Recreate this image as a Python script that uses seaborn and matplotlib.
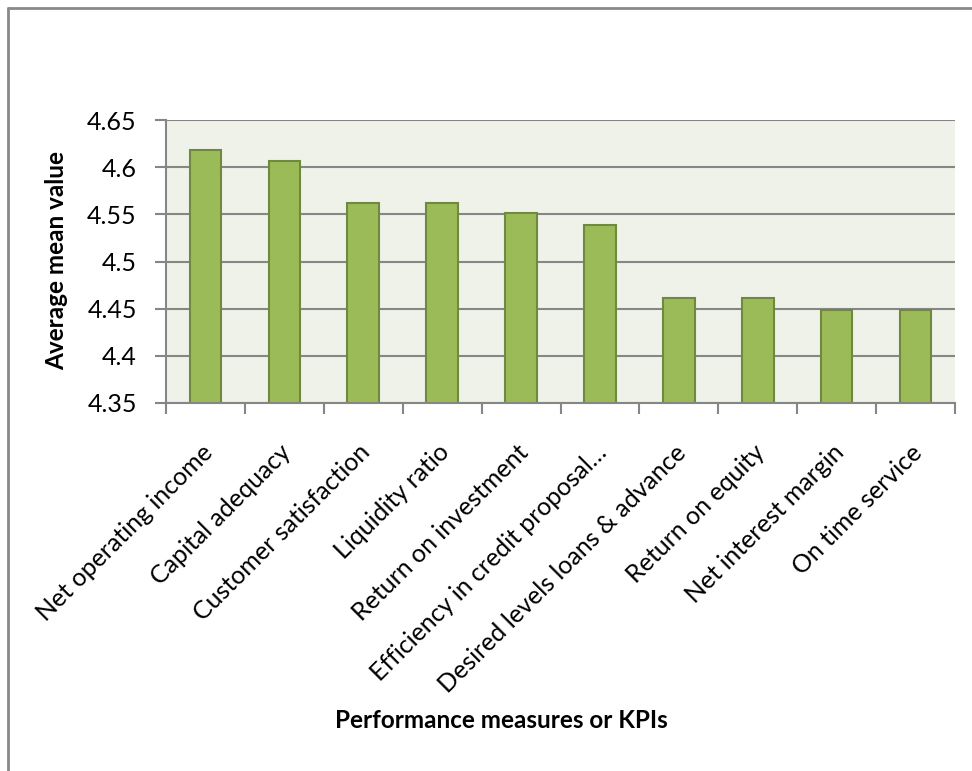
import matplotlib
matplotlib.use("Agg")
import matplotlib.pyplot as plt
import matplotlib.transforms as mtransforms
import seaborn as sns
import pandas as pd
from matplotlib.lines import Line2D

categories = [
    "Net operating income",
    "Capital adequacy",
    "Customer satisfaction",
    "Liquidity ratio",
    "Return on investment",
    "Efficiency in credit proposal…",
    "Desired levels loans & advance",
    "Return on equity",
    "Net interest margin",
    "On time service",
]
values = [4.618, 4.607, 4.562, 4.562, 4.551, 4.539, 4.461, 4.461, 4.449, 4.449]
yticks = [4.35, 4.4, 4.45, 4.5, 4.55, 4.6, 4.65]
ytick_labels = ["4.35", "4.4", "4.45", "4.5", "4.55", "4.6", "4.65"]
x_title = "Performance measures or KPIs"
y_title = "Average mean value"

sns.set_theme(style="white")
plt.rcParams['font.family'] = ['Lato', 'DejaVu Sans']

W, H = 972, 771
fig = plt.figure(figsize=(W / 100, H / 100), dpi=100)
ax = fig.add_axes([166 / W, 1 - 403 / H, (955 - 166) / W, (403 - 120) / H])

df = pd.DataFrame({"kpi": categories, "value": values})
sns.barplot(data=df, x="kpi", y="value", width=0.4, color="#9BBB59",
            edgecolor="#71893F", linewidth=1.5, saturation=1, ax=ax)

grid_col = "#868686"
ax.set_facecolor("#EEF2E8")
ax.set_ylim(4.35, 4.65)
ax.set_xlim(-0.5, len(categories) - 0.5)
ax.set_axisbelow(True)
ax.yaxis.grid(True, color=grid_col, linewidth=1.5)
ax.xaxis.grid(False)

for s in ["top", "right"]:
    ax.spines[s].set_visible(False)
for s in ["left", "bottom"]:
    ax.spines[s].set_color(grid_col)
    ax.spines[s].set_linewidth(1.5)

ax.set_yticks(yticks, ytick_labels)
ax.tick_params(axis="y", which="major", left=True, length=8, width=1.5,
               color=grid_col, direction="out", pad=13, labelsize=18,
               labelcolor="black")

ax.set_xticks(range(len(categories)))
ax.set_xticklabels(categories, rotation=45, ha="right", va="top",
                   rotation_mode="anchor", fontsize=18, color="black")
ax.tick_params(axis="x", which="major", bottom=True, length=0, pad=27)
ax.set_xticks([i - 0.5 for i in range(len(categories) + 1)], minor=True)
ax.tick_params(axis="x", which="minor", bottom=True, length=8, width=1.5,
               color=grid_col, direction="out")
shift = mtransforms.ScaledTranslation(-5 / 100, 0, fig.dpi_scale_trans)
for lbl in ax.get_xticklabels():
    lbl.set_transform(lbl.get_transform() + shift)

ax.set_xlabel("")
ax.set_ylabel("")

fig.text(501 / W, 1 - 720 / H, x_title, ha="center", va="center",
         fontsize=17.5, fontweight="bold", color="black")
fig.text(57 / W, 1 - 261 / H, y_title, ha="center", va="center",
         rotation=90, fontsize=17.5, fontweight="bold", color="black")

border = "#898989"
fig.add_artist(Line2D([8 / W, 8 / W], [0, 1 - 8 / H], transform=fig.transFigure,
                      color=border, lw=2))
fig.add_artist(Line2D([8 / W, 1], [1 - 8 / H, 1 - 8 / H], transform=fig.transFigure,
                      color=border, lw=2))

fig.savefig("out.png", dpi=100)
